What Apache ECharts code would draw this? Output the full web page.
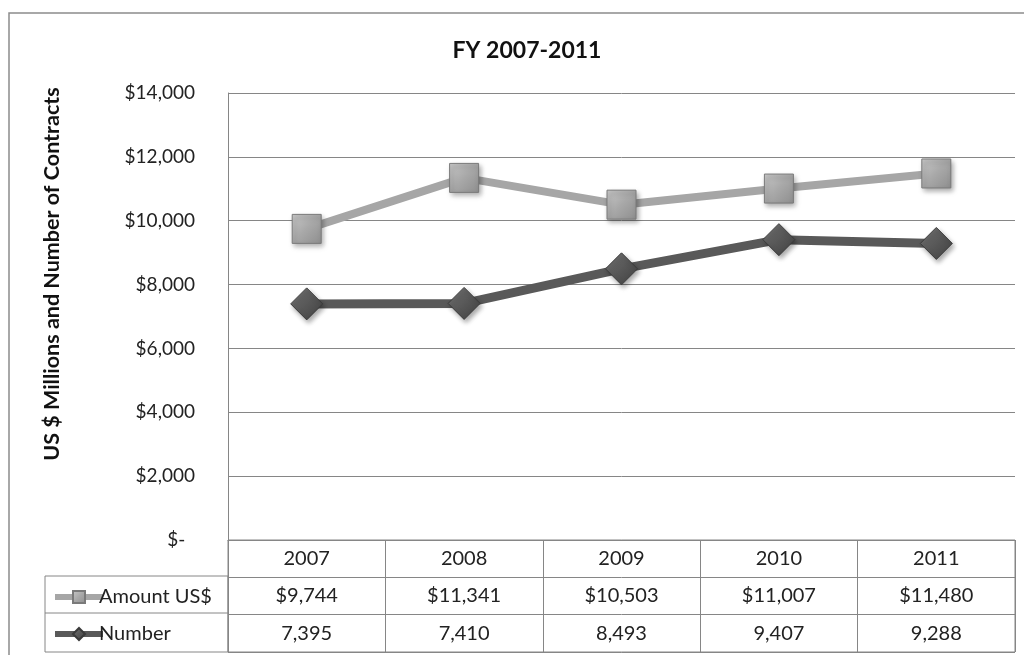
<!DOCTYPE html>
<html><head><meta charset="utf-8">
<script src="https://cdn.jsdelivr.net/npm/echarts@6/dist/echarts.min.js"></script>
<style>html,body{margin:0;padding:0;background:#fff}#c{width:1024px;height:655px}</style>
</head><body><div id="c"></div>
<script>
const years = ['2007','2008','2009','2010','2011'];
const amount = [9744, 11341, 10503, 11007, 11480];
const number = [7395, 7410, 8493, 9407, 9288];
const seriesNames = ['Amount US$', 'Number'];
const yTicks = [0, 2000, 4000, 6000, 8000, 10000, 12000, 14000];
const titleText = 'FY 2007-2011';
const yName = 'US $ Millions and Number of Contracts';

const FONT = 'Lato';
const fmtMoney = v => '$' + v.toLocaleString('en-US');
const fmtNum = v => v.toLocaleString('en-US');
const grid = '#868686';

const chart = echarts.init(document.getElementById('c'));
chart.setOption({
  animation: false,
  textStyle: {fontFamily: FONT},
  title: {text: titleText, left: 522, top: 34, textAlign: 'center',
    textStyle: {fontFamily: FONT, fontWeight: 'bold', fontSize: 23, color: '#111'}},
  legend: {
    orient: 'vertical', left: 47, top: 582, itemGap: 17, itemWidth: 48, itemHeight: 15,
    data: seriesNames,
    textStyle: {fontFamily: FONT, fontSize: 20, color: '#222', padding: [0,0,0,-9]},
    lineStyle: {width: 6}
  },
  graphic: [
    {type: 'rect', shape: {x: 9, y: 13, width: 1040, height: 700}, style: {fill: 'none', stroke: '#8c8c8c', lineWidth: 1.5}, silent: true, z: -1},
    {type: 'rect', shape: {x: 45, y: 576, width: 183, height: 76}, style: {fill: 'none', stroke: grid, lineWidth: 1}, silent: true},
    {type: 'line', shape: {x1: 45, y1: 613, x2: 228, y2: 613}, style: {stroke: grid, lineWidth: 1}, silent: true},
    {type: 'text', x: 52, y: 274, rotation: Math.PI / 2,
      style: {text: yName, font: 'bold 21.5px ' + FONT, fill: '#111', textAlign: 'center', textVerticalAlign: 'middle'}}
  ],
  grid: [
    {left: 228, right: 9, top: 93, height: 447},
    {left: 228, right: 9, top: 540, height: 112, show: true, borderColor: grid, borderWidth: 1}
  ],
  xAxis: [
    {type: 'category', gridIndex: 0, data: years, boundaryGap: true,
      axisLine: {show: true, lineStyle: {color: grid}}, axisTick: {show: false},
      axisLabel: {margin: 0, interval: 0,
        formatter: (v, i) => '{a|' + v + '}\n{a|' + fmtMoney(amount[i]) + '}\n{a|' + fmtNum(number[i]) + '}',
        rich: {a: {fontFamily: FONT, fontSize: 20, color: '#222', lineHeight: 37.3}}}},
    {type: 'category', gridIndex: 1, data: years, boundaryGap: true,
      axisLine: {show: false}, axisTick: {show: false}, axisLabel: {show: false},
      splitLine: {show: true, interval: 0, lineStyle: {color: grid, width: 1}}}
  ],
  yAxis: [
    {type: 'value', gridIndex: 0, min: 0, max: 14000, interval: 2000,
      axisLine: {show: true, lineStyle: {color: grid}}, axisTick: {show: false},
      axisLabel: {margin: 33, fontFamily: FONT, fontSize: 19, color: '#222',
        formatter: v => v === 0 ? '$-  ' : fmtMoney(v)},
      splitLine: {show: true, lineStyle: {color: grid, width: 1}}},
    {type: 'value', gridIndex: 1, min: 0, max: 3, interval: 1,
      axisLine: {show: false}, axisTick: {show: false}, axisLabel: {show: false},
      splitLine: {show: true, lineStyle: {color: grid, width: 1}}}
  ],
  series: [
    {name: seriesNames[0], type: 'line', data: amount, xAxisIndex: 0, yAxisIndex: 0,
      symbol: 'rect', symbolSize: 29, z: 3,
      lineStyle: {color: '#a6a6a6', width: 8},
      itemStyle: {color: new echarts.graphic.LinearGradient(0, 0, 1, 1, [
          {offset: 0, color: '#c9c9c9'}, {offset: 0.5, color: '#a8a8a8'}, {offset: 1, color: '#8e8e8e'}]),
        borderColor: '#7a7a7a', borderWidth: 1,
        shadowBlur: 5, shadowColor: 'rgba(0,0,0,0.35)', shadowOffsetX: 2, shadowOffsetY: 3}},
    {name: seriesNames[1], type: 'line', data: number, xAxisIndex: 0, yAxisIndex: 0,
      symbol: 'diamond', symbolSize: [32, 32], z: 2,
      lineStyle: {color: '#595959', width: 9},
      itemStyle: {color: new echarts.graphic.LinearGradient(0, 0, 1, 1, [
          {offset: 0, color: '#767676'}, {offset: 0.5, color: '#585858'}, {offset: 1, color: '#404040'}]),
        borderColor: '#3a3a3a', borderWidth: 1,
        shadowBlur: 5, shadowColor: 'rgba(0,0,0,0.35)', shadowOffsetX: 2, shadowOffsetY: 3}}
  ]
});
</script></body></html>
